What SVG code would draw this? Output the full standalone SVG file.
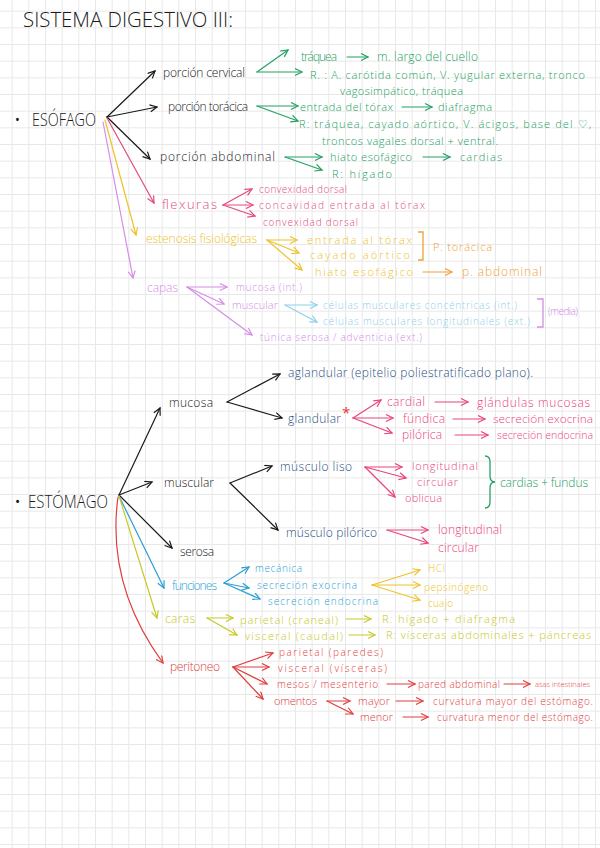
<svg xmlns="http://www.w3.org/2000/svg" width="600" height="848" viewBox="0 0 600 848">
<defs>
<pattern id="grid" patternUnits="userSpaceOnUse" x="11.67" y="10.67" width="16.667" height="16.667">
<path d="M0,0.5 H16.667 M0.5,0 V16.667" stroke="#e8e8e8" stroke-width="1" fill="none"/>
</pattern>
<marker id="ak" markerUnits="userSpaceOnUse" markerWidth="10" markerHeight="10" refX="8" refY="4" orient="auto"><path d="M1,0.5 L8,4 L1,7.5" fill="none" stroke="#1a1a1a" stroke-width="1.2"/></marker>
<marker id="ag" markerUnits="userSpaceOnUse" markerWidth="10" markerHeight="10" refX="8" refY="4" orient="auto"><path d="M1,0.5 L8,4 L1,7.5" fill="none" stroke="#24a064" stroke-width="1.2"/></marker>
<marker id="ap" markerUnits="userSpaceOnUse" markerWidth="10" markerHeight="10" refX="8" refY="4" orient="auto"><path d="M1,0.5 L8,4 L1,7.5" fill="none" stroke="#e14c7c" stroke-width="1.2"/></marker>
<marker id="ay" markerUnits="userSpaceOnUse" markerWidth="10" markerHeight="10" refX="8" refY="4" orient="auto"><path d="M1,0.5 L8,4 L1,7.5" fill="none" stroke="#eec22a" stroke-width="1.2"/></marker>
<marker id="ao" markerUnits="userSpaceOnUse" markerWidth="10" markerHeight="10" refX="8" refY="4" orient="auto"><path d="M1,0.5 L8,4 L1,7.5" fill="none" stroke="#f0a035" stroke-width="1.2"/></marker>
<marker id="av" markerUnits="userSpaceOnUse" markerWidth="10" markerHeight="10" refX="8" refY="4" orient="auto"><path d="M1,0.5 L8,4 L1,7.5" fill="none" stroke="#d48ee6" stroke-width="1.2"/></marker>
<marker id="al" markerUnits="userSpaceOnUse" markerWidth="10" markerHeight="10" refX="8" refY="4" orient="auto"><path d="M1,0.5 L8,4 L1,7.5" fill="none" stroke="#8fd0ea" stroke-width="1.2"/></marker>
<marker id="am" markerUnits="userSpaceOnUse" markerWidth="10" markerHeight="10" refX="8" refY="4" orient="auto"><path d="M1,0.5 L8,4 L1,7.5" fill="none" stroke="#ea447c" stroke-width="1.2"/></marker>
<marker id="ab" markerUnits="userSpaceOnUse" markerWidth="10" markerHeight="10" refX="8" refY="4" orient="auto"><path d="M1,0.5 L8,4 L1,7.5" fill="none" stroke="#2c9fd6" stroke-width="1.2"/></marker>
<marker id="aly" markerUnits="userSpaceOnUse" markerWidth="10" markerHeight="10" refX="8" refY="4" orient="auto"><path d="M1,0.5 L8,4 L1,7.5" fill="none" stroke="#c6c926" stroke-width="1.2"/></marker>
<marker id="ar" markerUnits="userSpaceOnUse" markerWidth="10" markerHeight="10" refX="8" refY="4" orient="auto"><path d="M1,0.5 L8,4 L1,7.5" fill="none" stroke="#e23d3d" stroke-width="1.2"/></marker>
</defs>
<style>
text{font-family:"Open Sans","Liberation Sans",sans-serif;font-size:12px;font-weight:300}
.s10{font-size:10px}.s11{font-size:11px}.s13{font-size:13px}
.k{fill:#1a1a1a}.g{fill:#24a064}.p{fill:#e14c7c}.y{fill:#eec22a}.o{fill:#f0a035}.v{fill:#d48ee6}.l{fill:#8fd0ea}.m{fill:#ea447c}.b{fill:#2c9fd6}.ly{fill:#c6c926}.r{fill:#e23d3d}.d{fill:#2c4f82}
#connectors path{fill:none;stroke-width:1.2;stroke-linecap:round}
.ck{stroke:#1a1a1a;marker-end:url(#ak)}.cg{stroke:#24a064;marker-end:url(#ag)}.cp{stroke:#e14c7c;marker-end:url(#ap)}.cy{stroke:#eec22a;marker-end:url(#ay)}.co{stroke:#f0a035;marker-end:url(#ao)}.cv{stroke:#d48ee6;marker-end:url(#av)}.cl{stroke:#8fd0ea;marker-end:url(#al)}.cm{stroke:#ea447c;marker-end:url(#am)}.cb{stroke:#2c9fd6;marker-end:url(#ab)}.cly{stroke:#c6c926;marker-end:url(#aly)}.cr{stroke:#e23d3d;marker-end:url(#ar)}
.br{fill:none;stroke-width:1.3}
</style>
<rect width="600" height="848" fill="#ffffff"/>
<rect width="600" height="848" fill="url(#grid)"/>

<g id="title"><text x="23" y="27" style="font-size:21px" class="k" textLength="210" lengthAdjust="spacingAndGlyphs">SISTEMA DIGESTIVO III:</text></g>

<g id="connectors">
<path class="ck" d="M107,117 L155,71"/>
<path class="ck" d="M107,117 L157,107"/>
<path class="ck" d="M107,117 L150,159"/>
<path class="cp" d="M107,118 L154,203"/>
<path class="cy" d="M105,120 L136,235"/>
<path class="cv" d="M103,122 L133,278"/>
<path class="cg" d="M257,72 L288,50"/>
<path class="cg" d="M257,72 L302,72"/>
<path class="cg" d="M347,57 L368,57"/>
<path class="cg" d="M257,106 L298,106"/>
<path class="cg" d="M257,106 L298,121"/>
<path class="cg" d="M402,107 L432,107"/>
<path class="cg" d="M285,157 L322,157"/>
<path class="cg" d="M285,157 L322,170"/>
<path class="cg" d="M423,157 L450,157"/>
<path class="cp" d="M223,205 L252,189"/>
<path class="cp" d="M223,205 L253,205"/>
<path class="cp" d="M223,205 L255,216"/>
<path class="cy" d="M267,240 L297,240"/>
<path class="cy" d="M267,240 L299,253"/>
<path class="cy" d="M267,240 L302,270"/>
<path class="co" d="M423,272 L452,272"/>
<path class="cv" d="M187,287 L227,287"/>
<path class="cv" d="M187,287 L224,304"/>
<path class="cv" d="M187,287 L252,335"/>
<path class="cl" d="M285,305 L317,305"/>
<path class="cl" d="M285,305 L317,322"/>
<path class="ck" d="M119,495 L160,408"/>
<path class="ck" d="M119,495 L152,482"/>
<path class="ck" d="M119,495 L172,548"/>
<path class="ck" d="M227,402 L280,374"/>
<path class="ck" d="M227,402 L282,418"/>
<path class="cm" d="M353,418 L381,400"/>
<path class="cm" d="M353,418 L393,418"/>
<path class="cm" d="M353,418 L392,433"/>
<path class="cm" d="M435,402 L468,402"/>
<path class="cm" d="M453,419 L485,419"/>
<path class="cm" d="M455,435 L488,435"/>
<path class="ck" d="M230,483 L272,466"/>
<path class="ck" d="M230,483 L278,530"/>
<path class="cm" d="M365,467 L402,467"/>
<path class="cm" d="M365,467 L406,478"/>
<path class="cm" d="M365,467 L395,497"/>
<path class="cm" d="M387,530 L428,530"/>
<path class="cm" d="M387,530 L428,543"/>
<path class="cb" d="M119,496 L164,588"/>
<path class="cb" d="M224,583 L249,567"/>
<path class="cb" d="M224,583 L249,588"/>
<path class="cb" d="M224,583 L260,599"/>
<path class="cy" d="M372,585 L420,570"/>
<path class="cy" d="M372,585 L420,585"/>
<path class="cy" d="M372,585 L420,600"/>
<path class="cly" d="M119,496 L157,618"/>
<path class="cly" d="M207,618 L233,618"/>
<path class="cly" d="M207,618 L237,635"/>
<path class="cly" d="M346,619 L371,619"/>
<path class="cly" d="M349,635 L375,635"/>
<path class="cr" d="M118,497 Q106,585 163,663"/>
<path class="cr" d="M233,667 L273,653"/>
<path class="cr" d="M233,667 L269,667"/>
<path class="cr" d="M233,667 L267,684"/>
<path class="cr" d="M233,667 L263,699"/>
<path class="cr" d="M387,684 L415,684"/>
<path class="cr" d="M504,684 L530,684"/>
<path class="cr" d="M327,701 L350,701"/>
<path class="cr" d="M327,701 L353,714"/>
<path class="cr" d="M396,701 L423,701"/>
<path class="cr" d="M403,717 L428,717"/>
</g>

<g id="esofago"><text x="14" y="126" class="k" style="font-size:18px">•<tspan x="32" textLength="64" lengthAdjust="spacingAndGlyphs">ESÓFAGO</tspan></text></g>

<g id="porcion-cervical">
<text x="163" y="77" class="k" textLength="82">porción cervical</text>
<text x="301" y="61" class="g" textLength="36">tráquea</text>
<text x="377" y="61" class="g" textLength="101">m. largo del cuello</text>
<text x="310" y="79" class="g s11" textLength="275">R. : A. carótida común, V. yugular externa, tronco</text>
<text x="340" y="95" class="g s11" textLength="123">vagosimpático, tráquea</text>
</g>
<g id="porcion-toracica">
<text x="168" y="111" class="k" textLength="80">porción torácica</text>
<text x="300" y="111" class="g s11" textLength="93">entrada del tórax</text>
<text x="438" y="111" class="g s11" textLength="54">diafragma</text>
<text x="299" y="128" class="g s11" textLength="292">R: tráquea, cayado aórtico, V. ácigos, base del ♡,</text>
<text x="322" y="145" class="g s11" textLength="176">troncos vagales dorsal + ventral.</text>
</g>
<g id="porcion-abdominal">
<text x="160" y="161" class="k" textLength="115">porción abdominal</text>
<text x="330" y="161" class="g s11" textLength="82">hiato esofágico</text>
<text x="460" y="161" class="g s11" textLength="42">cardias</text>
<text x="332" y="178" class="g s11" textLength="60">R: hígado</text>
</g>
<g id="flexuras">
<text x="162" y="209" class="p s13" textLength="55">flexuras</text>
<text x="259" y="193" class="p s10" textLength="88">convexidad dorsal</text>
<text x="259" y="209" class="p s10" textLength="166">concavidad entrada al tórax</text>
<text x="263" y="226" class="p s10" textLength="95">convexidad dorsal</text>
</g>
<g id="estenosis">
<text x="146" y="243" class="y" textLength="111">estenosis fisiológicas</text>
<text x="307" y="244" class="y s11" textLength="105">entrada al tórax</text>
<text x="310" y="259" class="y s11" textLength="100">cayado aórtico</text>
<text x="315" y="276" class="y s11" textLength="98">hiato esofágico</text>
<path class="br" stroke="#f0a035" d="M418,232 H423 V260 H418"/>
<text x="433" y="251" class="o s11" textLength="59">P. torácica</text>
<text x="462" y="276" class="o" textLength="80">p. abdominal</text>
</g>
<g id="capas">
<text x="147" y="292" class="v" textLength="31">capas</text>
<text x="236" y="291" class="v s10" textLength="66">mucosa (int.)</text>
<text x="232" y="309" class="v s11" textLength="46">muscular</text>
<text x="323" y="309" class="l s10" textLength="194">células musculares concéntricas (int.)</text>
<text x="323" y="325" class="l s10" textLength="207">células musculares longitudinales (ext.)</text>
<path class="br" stroke="#d48ee6" d="M537,299 H543 V327 H537"/>
<text x="548" y="315" class="v s10" textLength="30">(media)</text>
<text x="260" y="341" class="v s10" textLength="162">túnica serosa / adventicia (ext.)</text>
</g>

<g id="estomago"><text x="14" y="508" class="k" style="font-size:19px">•<tspan x="28" textLength="80" lengthAdjust="spacingAndGlyphs">ESTÓMAGO</tspan></text></g>

<g id="mucosa">
<text x="169" y="407" class="k" textLength="44">mucosa</text>
<text x="288" y="377" class="d" textLength="245">aglandular (epitelio poliestratificado plano).</text>
<text x="288" y="423" class="d" textLength="53">glandular</text>
<text x="342" y="418" style="font-size:15px;fill:#e53935;font-weight:400">*</text>
<text x="387" y="406" class="m" textLength="38">cardial</text>
<text x="477" y="407" class="m" textLength="113">glándulas mucosas</text>
<text x="403" y="423" class="m" textLength="42">fúndica</text>
<text x="493" y="423" class="m s11" textLength="100" lengthAdjust="spacingAndGlyphs">secreción exocrina</text>
<text x="402" y="439" class="m" textLength="40">pilórica</text>
<text x="497" y="439" class="m s11" textLength="96" lengthAdjust="spacingAndGlyphs">secreción endocrina</text>
</g>
<g id="muscular">
<text x="164" y="487" class="k" textLength="50">muscular</text>
<text x="280" y="471" class="d" textLength="72">músculo liso</text>
<text x="412" y="470" class="m s11" textLength="66">longitudinal</text>
<text x="417" y="486" class="m s11" textLength="41">circular</text>
<text x="405" y="502" class="m s11" textLength="37">oblicua</text>
<path class="br" stroke="#24a064" d="M485,456 Q490,456 490,462 L490,476 Q490,482 495,482 Q490,482 490,488 L490,502 Q490,508 485,508"/>
<text x="500" y="487" class="g" textLength="88">cardias + fundus</text>
<text x="286" y="537" class="d" textLength="91">músculo pilórico</text>
<text x="438" y="534" class="m" textLength="64">longitudinal</text>
<text x="438" y="552" class="m" textLength="41">circular</text>
</g>
<g id="serosa"><text x="180" y="556" class="k" textLength="34">serosa</text></g>
<g id="funciones">
<text x="172" y="590" class="b" textLength="45">funciones</text>
<text x="255" y="572" class="b s10" textLength="47">mecánica</text>
<text x="257" y="589" class="b s10" textLength="100">secreción exocrina</text>
<text x="268" y="605" class="b s10" textLength="110">secreción endocrina</text>
<text x="428" y="572" class="y s10" textLength="17">HCl</text>
<text x="424" y="591" class="y s10" textLength="64">pepsinógeno</text>
<text x="428" y="607" class="y s10" textLength="25">cuajo</text>
</g>
<g id="caras">
<text x="165" y="623" class="ly" textLength="30">caras</text>
<text x="240" y="624" class="ly s11" textLength="98">parietal (craneal)</text>
<text x="382" y="623" class="ly s11" textLength="133">R: hígado + diafragma</text>
<text x="245" y="640" class="ly s11" textLength="98">visceral (caudal)</text>
<text x="386" y="639" class="ly s11" textLength="205">R: vísceras abdominales + páncreas</text>
</g>
<g id="peritoneo">
<text x="170" y="671" class="r" textLength="50">peritoneo</text>
<text x="279" y="656" class="r s10" textLength="104">parietal (paredes)</text>
<text x="278" y="672" class="r s10" textLength="109">visceral (vísceras)</text>
<text x="277" y="688" class="r s10" textLength="101">mesos / mesenterio</text>
<text x="418" y="688" class="r s10" textLength="82">pared abdominal</text>
<text x="535" y="687" class="r" style="font-size:7.5px">asas intestinales</text>
<text x="274" y="705" class="r s11" textLength="43">omentos</text>
<text x="358" y="705" class="r s11" textLength="32">mayor</text>
<text x="433" y="705" class="r s10" textLength="160">curvatura mayor del estómago.</text>
<text x="360" y="721" class="r s11" textLength="33">menor</text>
<text x="437" y="721" class="r s10" textLength="156">curvatura menor del estómago.</text>
</g>
</svg>
